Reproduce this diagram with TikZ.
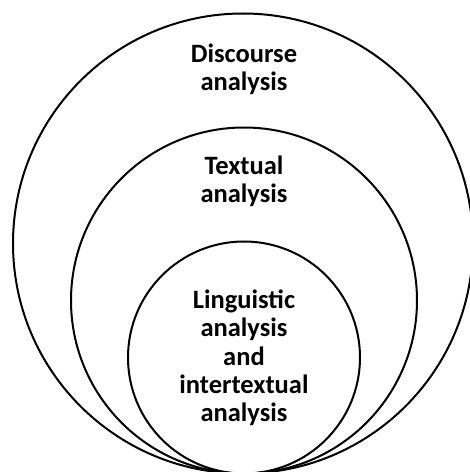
\documentclass[tikz,border=0pt]{standalone}
\usepackage{fontspec}
\setmainfont{Carlito}
\begin{document}
\begin{tikzpicture}[x=1pt,y=1pt,
  ring/.style={draw=black, line width=2pt, circle, inner sep=0pt},
  label/.style={font=\fontsize{26.5}{28.5}\selectfont\bfseries, align=center, inner sep=0pt, anchor=base}]
  \useasboundingbox (0,0) rectangle (470,472);
  % three nested circles touching at the bottom
  \node[ring, minimum size=460pt] (outer)  at (243,228.5) {};
  \node[ring, minimum size=346pt] (middle) at (244,171.5) {};
  \node[ring, minimum size=232pt] (inner)  at (244,114.5) {};
  % labels (node base = baseline of the last line)
  \node[label] (discourse) at (244,381) {Discourse\\analysis};
  \node[label] (textual)   at (244,269) {Textual\\analysis};
  \node[label] (linguistic) at (244,50) {Linguistic\\analysis\\and\\intertextual\\analysis};
\end{tikzpicture}
\end{document}
